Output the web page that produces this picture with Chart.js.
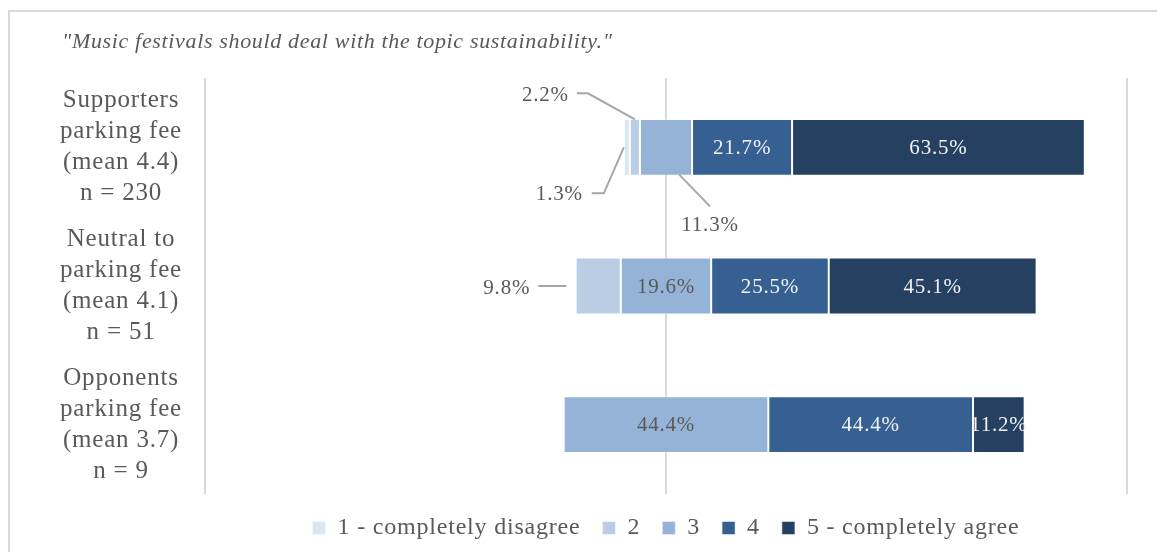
<!DOCTYPE html>
<html>
<head>
<meta charset="utf-8">
<title>Music festivals and sustainability</title>
<script src="https://cdn.jsdelivr.net/npm/chart.js"></script>
<style>
  html, body { margin: 0; padding: 0; background: #fff; overflow: hidden; }
  #frame { position: absolute; left: 8px; top: 10px; width: 1300px; height: 700px; border: 2px solid #d9d9d9; }
  #title { position: absolute; left: 62px; top: 28px; font: italic 22px "Liberation Serif", serif; letter-spacing: 0.66px; color: #595959; white-space: nowrap; }
  #wrap { position: absolute; left: 0; top: 0; width: 1157px; height: 552px; }
</style>
</head>
<body>
<div id="frame"></div>
<div id="wrap"><canvas id="canvas"></canvas></div>
<div id="title">"Music festivals should deal with the topic sustainability."</div>

<script>
// groups of respondents (y axis)
const groups = [
  ['Supporters', 'parking fee', '(mean 4.4)', 'n = 230'],
  ['Neutral to', 'parking fee', '(mean 4.1)', 'n = 51'],
  ['Opponents', 'parking fee', '(mean 3.7)', 'n = 9']
]
const answers = ['1 - completely disagree', '2', '3', '4', '5 - completely agree']

// share of each answer in percent, per group
const answer1 = [1.3, 0, 0]
const answer2 = [2.2, 9.8, 0]
const answer3 = [11.3, 19.6, 44.4]
const answer4 = [21.7, 25.5, 44.4]
const answer5 = [63.5, 45.1, 11.2]
const shares = [answer1, answer2, answer3, answer4, answer5]

const colors = ['#dce6f2', '#b9cde5', '#95b3d7', '#366092', '#254061']
const textColors = ['#595959', '#595959', '#595959', '#f2f2f2', '#f2f2f2']

// small shares get a label outside the bar with a leader line
// (offsets in px from the segment centre)
const callouts = {
  '0-0': { line: [[-3, 0], [-23, 46], [-35, 46]], text: [-44, 47], align: 'right' },
  '1-0': { line: [[0, -28], [-47, -54], [-58, -54]], text: [-66, -52], align: 'right' },
  '2-0': { line: [[13, 27], [44, 59]], text: [44, 78], align: 'center' },
  '1-1': { line: [[-32, 0], [-60, 0]], text: [-68, 2], align: 'right' }
}

// diverging layout: bars are centred on the middle of answer 3
function ranges(i) {
  return groups.map((g, k) => {
    if (!shares[i][k]) return null
    let start = -(answer1[k] + answer2[k] + answer3[k] / 2)
    for (let j = 0; j < i; j++) start += shares[j][k]
    return [start, start + shares[i][k]]
  })
}

const serif = '"Liberation Serif", serif'
const spacing = '0.8px'

// the serif is a bit narrow, open it up a little for all canvas text
const letterSpacing = {
  id: 'letterSpacing',
  beforeLayout(chart) { chart.ctx.letterSpacing = spacing },
  beforeDraw(chart) { chart.ctx.letterSpacing = spacing }
}

const valueLabels = {
  id: 'valueLabels',
  afterDatasetsDraw(chart) {
    const ctx = chart.ctx
    ctx.save()
    ctx.font = '21px ' + serif
    ctx.letterSpacing = spacing
    ctx.textBaseline = 'middle'
    shares.forEach((values, i) => {
      chart.getDatasetMeta(i).data.forEach((bar, k) => {
        const v = values[k]
        if (!v) return
        const p = bar.getProps(['x', 'base', 'y'], true)
        const cx = (p.x + p.base) / 2
        const cy = p.y
        const text = v.toFixed(1) + '%'
        const c = callouts[i + '-' + k]
        if (c) {
          ctx.strokeStyle = '#a6a6a6'
          ctx.lineWidth = 2
          ctx.beginPath()
          c.line.forEach(([dx, dy], n) => {
            if (n === 0) ctx.moveTo(cx + dx, cy + dy)
            else ctx.lineTo(cx + dx, cy + dy)
          })
          ctx.stroke()
          ctx.fillStyle = '#595959'
          ctx.textAlign = c.align
          ctx.fillText(text, cx + c.text[0], cy + c.text[1])
        } else {
          ctx.fillStyle = textColors[i]
          ctx.textAlign = 'center'
          ctx.fillText(text, cx, cy + 1)
        }
      })
    })
    ctx.restore()
  }
}

const canvas = document.querySelector('#canvas')
const chart = new Chart(canvas.getContext('2d'), {
  type: 'bar',
  data: {
    labels: groups,
    datasets: answers.map((a, i) => ({
      label: a,
      data: ranges(i),
      backgroundColor: colors[i],
      borderColor: 'rgba(255,255,255,0.45)',
      borderWidth: 1,
      borderSkipped: false,
      grouped: false,
      categoryPercentage: 1,
      barPercentage: 0.41
    }))
  },
  options: {
    indexAxis: 'y',
    responsive: true,
    maintainAspectRatio: false,
    animation: false,
    layout: { padding: { left: 10, right: 30, top: 78, bottom: 2 } },
    scales: {
      x: {
        min: -100,
        max: 100,
        ticks: { display: false, stepSize: 100 },
        grid: { color: '#d9d9d9', lineWidth: 2, drawTicks: false },
        border: { display: false },
        afterFit(s) { s.height = 0 }
      },
      y: {
        grid: { display: false },
        border: { display: false },
        ticks: {
          crossAlign: 'center',
          padding: 15,
          color: '#595959',
          font: { family: serif, size: 25, lineHeight: 1.24 }
        },
        afterFit(s) {
          s.width = 195
          s.paddingTop = 0
          s.paddingBottom = 0
        }
      }
    },
    plugins: {
      title: { display: false },
      tooltip: { enabled: false },
      legend: {
        position: 'bottom',
        fullSize: false,
        labels: {
          boxWidth: 13,
          boxHeight: 13,
          padding: 22,
          color: '#595959',
          font: { family: serif, size: 24 }
        }
      }
    }
  },
  plugins: [letterSpacing, valueLabels]
})
</script>
</body>
</html>
